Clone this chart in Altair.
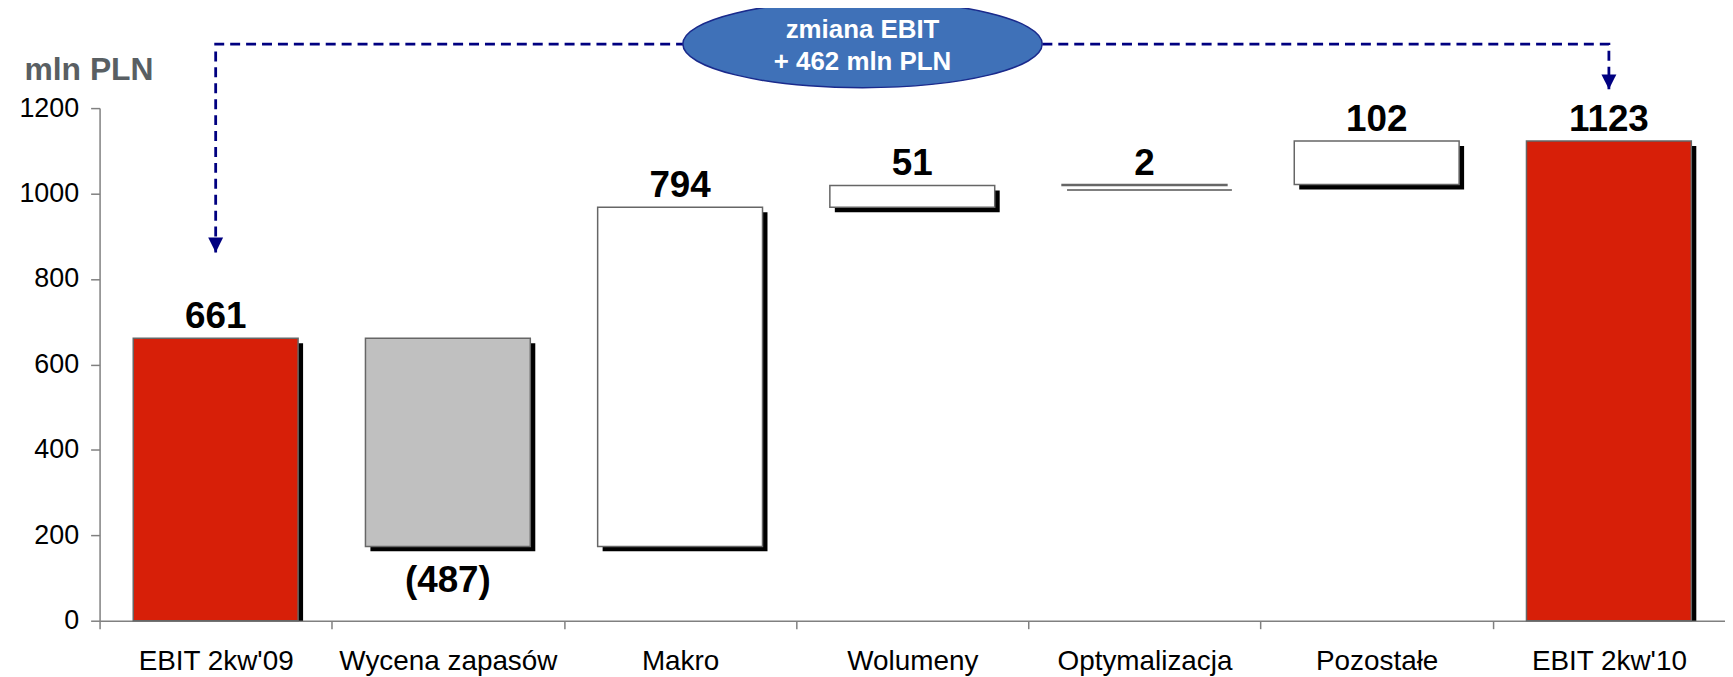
import altair as alt
import pandas as pd

# ---------------- data ----------------
categories = ["EBIT 2kw'09", "Wycena zapasów", "Makro", "Wolumeny",
              "Optymalizacja", "Pozostałe", "EBIT 2kw'10"]
changes = [661, -487, 794, 51, 2, 102, 1123]
kinds = ["total", "decrease", "increase", "increase", "increase", "increase", "total"]
value_labels = ["661", "(487)", "794", "51", "2", "102", "1123"]

y_ticks = [0, 200, 400, 600, 800, 1000, 1200]

bubble_lines = ["zmiana EBIT", "+ 462 mln PLN"]
bubble_category = ["Wolumeny"]
arrow_targets = ["EBIT 2kw'09", "EBIT 2kw'10"]
arrow_tips = [862, 1244]
connector_level = [1350]

# ---------------- build tables ----------------
rows = []
running = 0
for cat, ch, kind, lab in zip(categories, changes, kinds, value_labels):
    if kind == "total":
        start, end = 0, ch
    else:
        start, end = running, running + ch
    running = end
    low, high = min(start, end), max(start, end)
    rows.append({"cat": cat, "low": low, "high": high, "kind": kind,
                 "label": lab, "lpos": low if kind == "decrease" else high})
df = pd.DataFrame(rows)

path_rows = [
    {"cat": arrow_targets[0], "high": arrow_tips[0], "seq": 0},
    {"cat": arrow_targets[0], "high": connector_level[0], "seq": 1},
    {"cat": arrow_targets[1], "high": connector_level[0], "seq": 2},
    {"cat": arrow_targets[1], "high": arrow_tips[1], "seq": 3},
]
path_df = pd.DataFrame(path_rows)
tips_df = pd.DataFrame({"cat": arrow_targets, "high": arrow_tips})
bubble_df = pd.DataFrame({"cat": bubble_category, "high": connector_level})

# ---------------- styles ----------------
FONT = "Liberation Sans, Arial, sans-serif"
RED = "#D71F08"
GRAY = "#C0C0C0"
NAVY = "#000080"
BLUE = "#3F71B8"

WIDTH = 1633
STEP = WIDTH / len(categories)

x_scale = alt.Scale(domain=categories, paddingInner=0.29, paddingOuter=0.145)
x_axis = alt.Axis(title=None, labelAngle=0, labelFontSize=28, labelColor="black",
                  labelFont=FONT, labelPadding=19, labelLimit=0, tickSize=8,
                  tickOffset=-STEP / 2, labelOffset=STEP / 2,
                  domainColor="#808080", tickColor="#808080", domainWidth=1.5,
                  tickWidth=1.5)
y_scale = alt.Scale(domain=[0, 1200], nice=False, zero=True)
y_axis = alt.Axis(values=y_ticks, format="d", title="mln PLN", titleAngle=0,
                  titleAlign="left", titleBaseline="alphabetic", titleX=-76,
                  titleY=-29, titleFontSize=32, titleFontWeight="bold",
                  titleColor="#595F63", titleFont=FONT, labelFontSize=27,
                  labelFont=FONT, labelColor="black", labelPadding=12, tickSize=9,
                  domainColor="#808080", tickColor="#808080", domainWidth=1.5,
                  tickWidth=1.5, grid=False, labelFlush=False)


def X():
    return alt.X("cat:N", sort=categories, scale=x_scale, axis=x_axis)


def Y(field):
    return alt.Y(field + ":Q", scale=y_scale, axis=y_axis)


base = alt.Chart(df)

shadow_float = base.transform_filter(alt.datum.kind != "total").mark_bar(
    color="black", xOffset=5, yOffset=5, y2Offset=5
).encode(x=X(), y=Y("high"), y2="low:Q")

shadow_total = base.transform_filter(alt.datum.kind == "total").mark_bar(
    color="black", xOffset=5, yOffset=5
).encode(x=X(), y=Y("high"), y2="low:Q")

bars = base.mark_bar(stroke="#666666", strokeWidth=1.5).encode(
    x=X(), y=Y("high"), y2="low:Q",
    fill=alt.Fill("kind:N", scale=alt.Scale(domain=["total", "decrease", "increase"],
                                             range=[RED, GRAY, "#FFFFFF"]),
                  legend=None),
)

labels_top = base.transform_filter(alt.datum.kind != "decrease").mark_text(
    baseline="alphabetic", dy=-10, fontSize=37, fontWeight="bold", font=FONT,
    color="black"
).encode(x=X(), y=Y("lpos"), text="label:N")

labels_bottom = base.transform_filter(alt.datum.kind == "decrease").mark_text(
    baseline="alphabetic", dy=46, fontSize=37, fontWeight="bold", font=FONT,
    color="black"
).encode(x=X(), y=Y("lpos"), text="label:N")

connector = alt.Chart(path_df).mark_line(
    color=NAVY, strokeWidth=2.8, strokeDash=[10, 6]
).encode(x=X(), y=Y("high"), order="seq:Q")

arrowheads = alt.Chart(tips_df).mark_point(
    shape="M -1 -1 L 1 -1 L 0 1 Z", size=225, filled=True, fill=NAVY,
    opacity=1, yOffset=-7.5
).encode(x=X(), y=Y("high"))

ellipse = alt.Chart(bubble_df).mark_point(
    shape="M -1 0 A 1 0.243 0 1 0 1 0 A 1 0.243 0 1 0 -1 0 Z",
    size=361 * 361, filled=True, fill=BLUE, stroke="#1A2A8C", strokeWidth=1.5,
    opacity=1, xOffset=-50
).encode(x=X(), y=Y("high"))

bubble_text1 = alt.Chart(bubble_df).mark_text(
    baseline="alphabetic", dy=-6, xOffset=-50, fontSize=26, fontWeight="bold",
    font=FONT, color="white"
).encode(x=X(), y=Y("high"), text=alt.value(bubble_lines[0]))

bubble_text2 = alt.Chart(bubble_df).mark_text(
    baseline="alphabetic", dy=26, xOffset=-50, fontSize=26, fontWeight="bold",
    font=FONT, color="white"
).encode(x=X(), y=Y("high"), text=alt.value(bubble_lines[1]))

chart = alt.layer(
    shadow_float, shadow_total, bars, labels_top, labels_bottom,
    connector, arrowheads, ellipse, bubble_text1, bubble_text2
).properties(
    width=WIDTH, height=515,
    padding={"left": 92, "top": 99, "right": 0, "bottom": 60},
    autosize=alt.AutoSizeParams(type="none"),
    background="white",
).configure_view(stroke=None)

chart.save("out.html", embed_options={"renderer": "svg", "actions": False})
